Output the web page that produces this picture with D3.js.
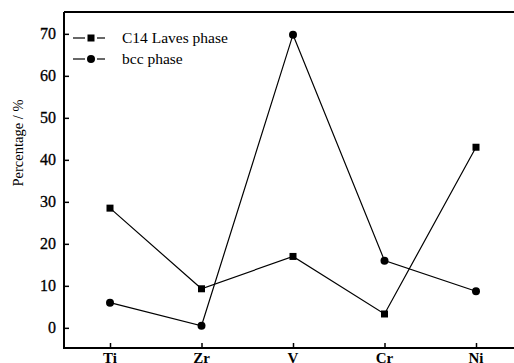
<!DOCTYPE html>
<html>
<head>
<meta charset="utf-8">
<script src="https://cdn.jsdelivr.net/npm/d3@7"></script>
<style>
  body { margin: 0; background: #fff; }
  text { font-family: "Liberation Serif", "Times New Roman", serif; fill: #000; }
</style>
</head>
<body>
<svg id="chart" width="514" height="363"></svg>
<script>
const elements = ["Ti", "Zr", "V", "Cr", "Ni"];
const lavesValues = [28.5, 9.3, 17.0, 3.3, 43.0];
const bccValues = [6.0, 0.5, 69.8, 16.0, 8.7];
const yTicks = [0, 10, 20, 30, 40, 50, 60, 70];

const svg = d3.select("#chart");

const x = d3.scalePoint()
    .domain(elements)
    .range([110, 476]);

const y = d3.scaleLinear()
    .domain([-4.8, 75.2])
    .range([348, 12]);

// frame: left, top, bottom (right side runs off the picture)
svg.append("path")
    .attr("d", "M64,12H514M64,12V348H514")
    .attr("fill", "none")
    .attr("stroke", "#000")
    .attr("stroke-width", 2);

const yAxis = svg.append("g")
    .attr("transform", "translate(64,0)")
    .call(d3.axisRight(y).tickValues(yTicks).tickSize(5).tickFormat(""));
yAxis.select(".domain").remove();
yAxis.selectAll("line").attr("stroke-width", 1.5);

svg.append("g")
    .selectAll("text")
    .data(yTicks)
    .join("text")
    .attr("x", 56)
    .attr("y", d => y(d) + 5.5)
    .attr("text-anchor", "end")
    .attr("font-size", 16)
    .attr("stroke", "#000")
    .attr("stroke-width", 0.3)
    .text(d => d);

const xAxis = svg.append("g")
    .attr("transform", "translate(0,348)")
    .call(d3.axisTop(x).tickSize(5).tickFormat(""));
xAxis.select(".domain").remove();
xAxis.selectAll("line").attr("stroke-width", 1.5);

svg.append("g")
    .selectAll("text")
    .data(elements)
    .join("text")
    .attr("x", d => x(d))
    .attr("y", 363)
    .attr("text-anchor", "middle")
    .attr("font-size", 15)
    .attr("font-weight", "bold")
    .text(d => d);

svg.append("text")
    .attr("transform", "translate(23,143) rotate(-90)")
    .attr("text-anchor", "middle")
    .attr("font-size", 14.5)
    .text("Percentage / %");

const line = d3.line()
    .x((d, i) => x(elements[i]))
    .y(d => y(d));

svg.append("path")
    .datum(lavesValues)
    .attr("d", line)
    .attr("fill", "none")
    .attr("stroke", "#000")
    .attr("stroke-width", 1.2);

svg.append("path")
    .datum(bccValues)
    .attr("d", line)
    .attr("fill", "none")
    .attr("stroke", "#000")
    .attr("stroke-width", 1.2);

svg.append("g")
    .selectAll("rect")
    .data(lavesValues)
    .join("rect")
    .attr("x", (d, i) => x(elements[i]) - 3.5)
    .attr("y", d => y(d) - 3.5)
    .attr("width", 7)
    .attr("height", 7)
    .attr("fill", "#000");

svg.append("g")
    .selectAll("circle")
    .data(bccValues)
    .join("circle")
    .attr("cx", (d, i) => x(elements[i]))
    .attr("cy", d => y(d))
    .attr("r", 4)
    .attr("fill", "#000");

// legend
const legend = svg.append("g");
const legendRows = [
  {label: "C14 Laves phase", mark: "square", yPos: 38},
  {label: "bcc phase", mark: "circle", yPos: 59}
];
legendRows.forEach(r => {
  legend.append("line")
      .attr("x1", 73).attr("x2", 85)
      .attr("y1", r.yPos).attr("y2", r.yPos)
      .attr("stroke", "#000").attr("stroke-width", 1.2);
  legend.append("line")
      .attr("x1", 97).attr("x2", 105)
      .attr("y1", r.yPos).attr("y2", r.yPos)
      .attr("stroke", "#000").attr("stroke-width", 1.2);
  if (r.mark === "square") {
    legend.append("rect")
        .attr("x", 87.5).attr("y", r.yPos - 3.5)
        .attr("width", 7).attr("height", 7)
        .attr("fill", "#000");
  } else {
    legend.append("circle")
        .attr("cx", 91).attr("cy", r.yPos).attr("r", 4)
        .attr("fill", "#000");
  }
  legend.append("text")
      .attr("x", 122)
      .attr("y", r.yPos + 5)
      .attr("font-size", 15.5)
      .text(r.label);
});
</script>
</body>
</html>
